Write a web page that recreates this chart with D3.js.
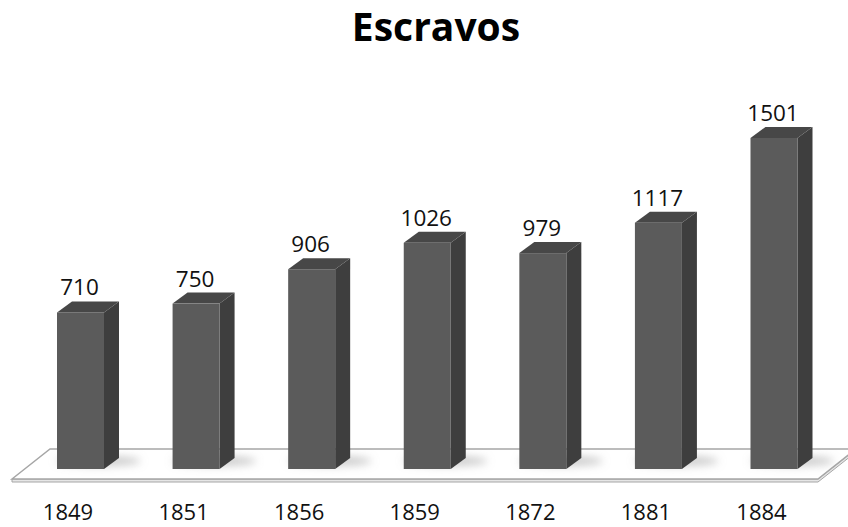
<!DOCTYPE html>
<html>
<head>
<meta charset="utf-8">
<script src="https://cdn.jsdelivr.net/npm/d3@7"></script>
<style>
  html, body { margin: 0; padding: 0; background: #fff; }
  svg { display: block; }
</style>
</head>
<body>
<svg id="chart" width="848" height="527"></svg>
<script>
// Slave population by census year
const years = ["1849", "1851", "1856", "1859", "1872", "1881", "1884"];
const slaves = [710, 750, 906, 1026, 979, 1117, 1501];
const titleText = "Escravos";

const W = 848, H = 527;
const svg = d3.select("#chart");

const baseY = 469;          // front edge of bar bottoms
const barW = 47;            // front face width
const depthX = 15, depthY = 11;

const x = d3.scalePoint().domain(years).range([80.5, 774]);
const y = d3.scaleLinear().domain([0, 1501]).range([baseY, 138]);

const defs = svg.append("defs");
defs.append("filter").attr("id", "soft")
  .attr("x", "-50%").attr("y", "-200%").attr("width", "200%").attr("height", "500%")
  .append("feGaussianBlur").attr("stdDeviation", 4);

// Floor slab
const floor = svg.append("g");
const fl = { fx0: 12, fy: 479, bx0: 50, by: 449, bx1: 856, fx1: 818 };
floor.append("path")
  .attr("d", `M${fl.fx0},${fl.fy + 3} L${fl.fx1},${fl.fy + 3} L${fl.bx1},${fl.by + 3} L${fl.bx1},${fl.by} L${fl.fx1},${fl.fy} L${fl.fx0},${fl.fy} Z`)
  .attr("fill", "#e6e6e6").attr("stroke", "#a6a6a6").attr("stroke-width", 1);
floor.append("path")
  .attr("d", `M${fl.fx0},${fl.fy} L${fl.bx0},${fl.by} L${fl.bx1},${fl.by} L${fl.fx1},${fl.fy} Z`)
  .attr("fill", "#ffffff").attr("stroke", "#a6a6a6").attr("stroke-width", 1.5);

// Soft shadows cast on the floor
svg.append("g").attr("filter", "url(#soft)")
  .selectAll("ellipse").data(years).join("ellipse")
  .attr("cx", d => x(d) + 18)
  .attr("cy", baseY - 8)
  .attr("rx", 42).attr("ry", 5)
  .attr("fill", "#9a9a9a").attr("opacity", 0.55);

// 3D bars
const bars = svg.append("g").selectAll("g").data(years).join("g");
bars.each(function(d, i) {
  const g = d3.select(this);
  const x0 = x(d) - barW / 2, x1 = x(d) + barW / 2;
  const yt = y(slaves[i]);
  // side face
  g.append("path")
    .attr("d", `M${x1},${yt} L${x1 + depthX},${yt - depthY} L${x1 + depthX},${baseY - depthY} L${x1},${baseY} Z`)
    .attr("fill", "#3e3e3e");
  // top face
  g.append("path")
    .attr("d", `M${x0},${yt} L${x0 + depthX},${yt - depthY} L${x1 + depthX},${yt - depthY} L${x1},${yt} Z`)
    .attr("fill", "#474747");
  // front face
  g.append("rect")
    .attr("x", x0).attr("y", yt)
    .attr("width", barW).attr("height", baseY - yt)
    .attr("fill", "#5b5b5b");
});

// Value labels
svg.append("g").selectAll("text").data(years).join("text")
  .attr("x", d => x(d) - 1)
  .attr("y", (d, i) => y(slaves[i]) - depthY - 6)
  .attr("text-anchor", "middle")
  .attr("font-family", "'Open Sans', sans-serif")
  .attr("font-size", 22.5)
  .attr("fill", "#111")
  .text((d, i) => slaves[i]);

// Category labels
svg.append("g").selectAll("text").data(years).join("text")
  .attr("x", d => x(d) - 12.5)
  .attr("y", 520)
  .attr("text-anchor", "middle")
  .attr("font-family", "'Open Sans', sans-serif")
  .attr("font-size", 22)
  .attr("fill", "#111")
  .text(d => d);

// Title
svg.append("text")
  .attr("x", 436).attr("y", 41)
  .attr("text-anchor", "middle")
  .attr("font-family", "'Open Sans', sans-serif")
  .attr("font-weight", "bold")
  .attr("font-size", 39)
  .attr("fill", "#000")
  .text(titleText);
</script>
</body>
</html>
